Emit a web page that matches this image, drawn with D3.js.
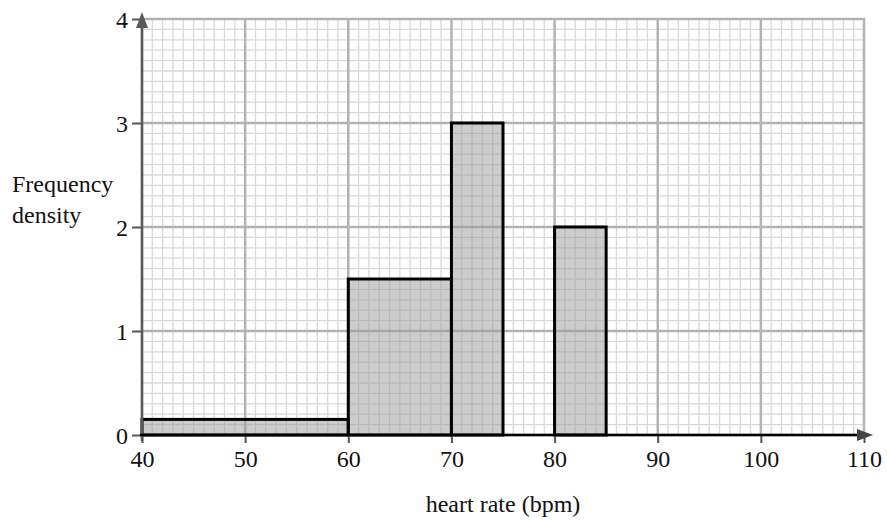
<!DOCTYPE html>
<html>
<head>
<meta charset="utf-8">
<script src="https://cdn.jsdelivr.net/npm/d3@7"></script>
<style>
html,body{margin:0;padding:0;background:#fff;}
svg{display:block;}
text{font-family:"Liberation Serif","Times New Roman",serif;fill:#111;}
</style>
</head>
<body>
<svg id="chart" width="887" height="520"></svg>
<script>
// Data
const binStarts = [40, 60, 70, 80];
const binEnds = [60, 70, 75, 85];
const densities = [0.15, 1.5, 3, 2];
const xTicks = [40, 50, 60, 70, 80, 90, 100, 110];
const yTicks = [0, 1, 2, 3, 4];
const xLabel = "heart rate (bpm)";
const yLabelLines = ["Frequency", "density"];

const FS = "24px";
const svg = d3.select("#chart");
const x = d3.scaleLinear().domain([40, 110]).range([142, 864]);
const y = d3.scaleLinear().domain([0, 4]).range([435, 19]);

// minor grid
const g = svg.append("g");
d3.range(40, 110.001, 1).forEach(v => {
  if (v % 10 !== 0) g.append("line").attr("x1", x(v)).attr("x2", x(v)).attr("y1", y(0)).attr("y2", y(4))
    .attr("stroke", "#d9d9d9").attr("stroke-width", 1.3);
});
d3.range(0, 41, 1).forEach(k => {
  if (k % 10 !== 0) g.append("line").attr("x1", x(40)).attr("x2", x(110)).attr("y1", y(k / 10)).attr("y2", y(k / 10))
    .attr("stroke", "#d9d9d9").attr("stroke-width", 1.3);
});
// major grid
xTicks.forEach(v => {
  g.append("line").attr("x1", x(v)).attr("x2", x(v)).attr("y1", y(0)).attr("y2", y(4) - 1)
    .attr("stroke", "#b3b3b3").attr("stroke-width", 2.5);
});
yTicks.forEach(v => {
  g.append("line").attr("x1", x(40)).attr("x2", x(110) + 1).attr("y1", y(v)).attr("y2", y(v))
    .attr("stroke", "#b3b3b3").attr("stroke-width", 2.5);
});

// bars
const bars = binStarts.map((s, i) => ({s, e: binEnds[i], d: densities[i]}));
svg.append("g").selectAll("rect").data(bars).join("rect")
  .attr("x", d => x(d.s))
  .attr("y", d => y(d.d))
  .attr("width", d => x(d.e) - x(d.s))
  .attr("height", d => y(0) - y(d.d))
  .attr("fill", "#999")
  .attr("fill-opacity", 0.5)
  .attr("stroke", "#000")
  .attr("stroke-width", 3);

// y axis
const yAxis = d3.axisLeft(y).tickValues(yTicks).tickSize(10).tickPadding(4).tickFormat(d3.format("d"));
const ya = svg.append("g").attr("transform", `translate(${x(40)},0)`).call(yAxis);
ya.select(".domain").remove();
ya.selectAll(".tick line").attr("stroke", "#555").attr("stroke-width", 2);
ya.selectAll(".tick text").style("font-size", FS).attr("fill", "#111").attr("font-family", "Liberation Serif, serif")
  .attr("dy", "0.34em");
svg.append("line").attr("x1", x(40)).attr("x2", x(40)).attr("y1", y(0) + 6).attr("y2", y(4) + 2)
  .attr("stroke", "#5a5a5a").attr("stroke-width", 2.5);
svg.append("path")
  .attr("d", `M${x(40)},${y(4) - 7} L${x(40) - 6},${y(4) + 9} L${x(40) + 6},${y(4) + 9} Z`)
  .attr("fill", "#5a5a5a");

// x axis
const xAxis = d3.axisBottom(x).tickValues(xTicks).tickSize(8).tickPadding(4).tickFormat(d3.format("d"));
const xa = svg.append("g").attr("transform", `translate(0,${y(0)})`).call(xAxis);
xa.select(".domain").remove();
xa.selectAll(".tick line").attr("stroke", "#555").attr("stroke-width", 2);
xa.selectAll(".tick text").style("font-size", FS).attr("fill", "#111").attr("font-family", "Liberation Serif, serif")
  .attr("y", 32).attr("dy", "0");
svg.append("line").attr("x1", x(40) - 2).attr("x2", x(110)).attr("y1", y(0)).attr("y2", y(0))
  .attr("stroke", "#000").attr("stroke-width", 2.5);
svg.append("path")
  .attr("d", `M${x(110) + 9},${y(0)} L${x(110) - 7},${y(0) - 6} L${x(110) - 7},${y(0) + 6} Z`)
  .attr("fill", "#444");

// labels
svg.append("text").attr("x", (x(40) + x(110)) / 2).attr("y", 512).attr("text-anchor", "middle")
  .style("font-size", FS).text(xLabel);
svg.append("text").attr("x", 12).attr("y", 192).style("font-size", FS).text(yLabelLines[0]);
svg.append("text").attr("x", 12).attr("y", 223).style("font-size", FS).text(yLabelLines[1]);
</script>
</body>
</html>
